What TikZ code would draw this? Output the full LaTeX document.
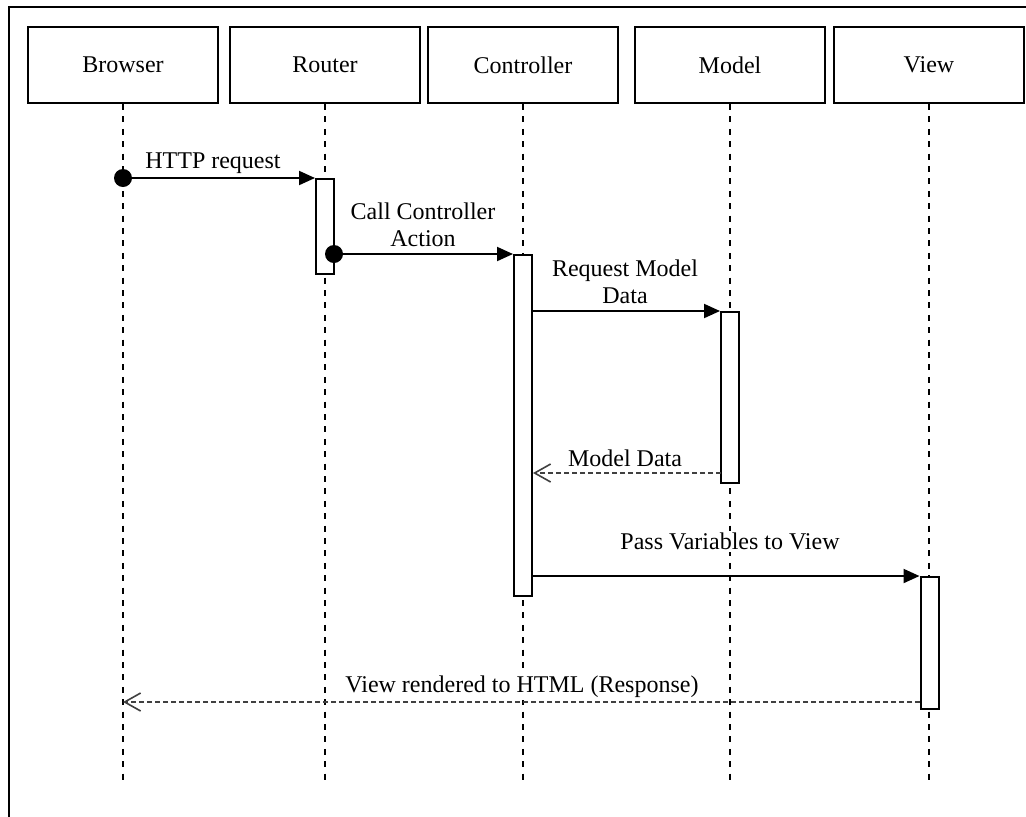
\documentclass[tikz,border=0pt]{standalone}
\usepackage{fontspec}
\setmainfont{Liberation Serif}
\usetikzlibrary{arrows.meta,calc}
\begin{document}
\begin{tikzpicture}[x=0.5pt,y=-0.5pt,
 head/.style={draw,line width=1pt,minimum width=95pt,minimum height=38pt,inner sep=0pt,font=\fontsize{12}{14}\selectfont},
 act/.style={draw,fill=white,line width=1pt,minimum width=9pt,inner sep=0pt,anchor=north},
 life/.style={line width=0.8pt,dash pattern=on 3pt off 3.2pt},
 msg/.style={line width=1pt,-{Triangle[length=8pt,width=7pt]}},
 ret/.style={line width=1pt,draw=black!75,dash pattern=on 2.5pt off 1.5pt,-{Straight Barb[length=8pt,width=9pt,line width=0.8pt]}},
 lbl/.style={font=\fontsize{12}{13.5}\selectfont,align=center,inner sep=1pt,fill=white},
 dot/.style={circle,fill,inner sep=0pt,minimum size=9pt}]
\useasboundingbox (0,0) rectangle (1026,816);
\clip (0,0) rectangle (1026,816);
\fill[white] (0,0) rectangle (1026,816);
% outer frame
\draw[line width=1.1pt] (9,840) -- (9,7) -- (1050,7);
% heads
\node[head] (br) at (123,65) {Browser};
\node[head] (ro) at (325,65) {Router};
\node[head] (co) at (523,65) {Controller};
\node[head] (mo) at (730,65) {Model};
\node[head] (vi) at (929,65) {View};
% lifelines
\foreach \n in {br,ro,co,mo,vi}{
  \coordinate (\n end) at (\n.south |- 0,780);
  \draw[life] (\n.south) -- (\n end);
}
% activations
\node[act,minimum height=47.5pt] (ra) at (325,178) {};
\node[act,minimum height=170.5pt] (ca) at (523,254) {};
\node[act,minimum height=85.5pt] (ma) at (730,311) {};
\node[act,minimum height=66pt] (va) at (929.5,576) {};
% messages
\node[dot] (d1) at (123,178) {};
\draw[msg] (d1.center) -- (ra.north west);
\node[lbl] (l1) at (213,163) {HTTP request};

\node[dot] (d2) at (334,254) {};
\draw[msg] (d2.center) -- (ca.north west);
\node[lbl] (l2) at (423,225) {Call Controller\\Action};

\coordinate (s3) at (ca.east |- ma.north);
\draw[msg] (s3) -- (ma.north west);
\node[lbl] (l3) at (625,282) {Request Model\\Data};

\coordinate (s4) at (721,473);
\coordinate (e4) at (ca.east |- s4);
\draw[ret] (s4) -- (e4);
\node[lbl] (l4) at (625,458) {Model Data};

\coordinate (s5) at (ca.east |- va.north);
\draw[msg] (s5) -- (va.north west);
\node[lbl] (l5) at (730,541) {Pass Variables to View};

\coordinate (s6) at (920,702);
\coordinate (e6) at (123,702);
\draw[ret] (s6) -- (e6);
\node[lbl] (l6) at (522,687) {View rendered to HTML (Response)};
\end{tikzpicture}
\end{document}
